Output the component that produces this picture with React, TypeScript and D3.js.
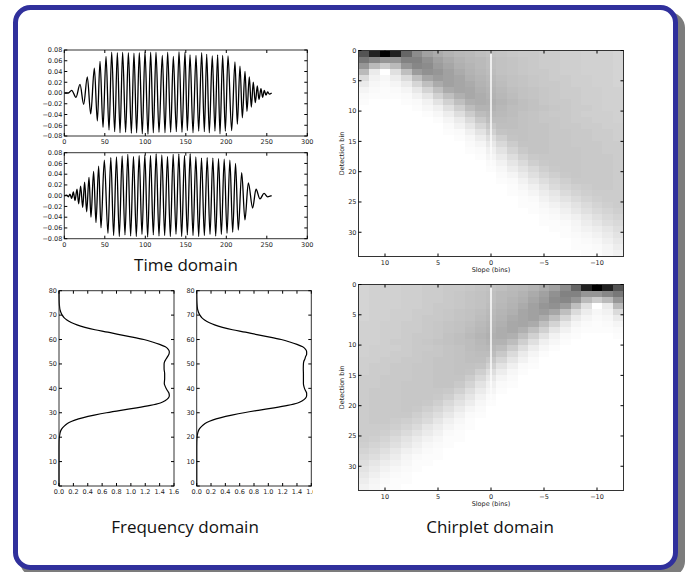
import React from 'react';
import * as d3 from 'd3';

// time domain: [sample, amplitude] at the turning points of each trace
const chirpUpWave: [number, number][] = [
  [0, 0], [5, 0], [9.1, 0.005], [14.4, -0.008], [19.4, 0.016], [23.9, -0.021], [28.4, 0.03], [32.6, -0.039],
  [37.1, 0.046], [40.8, -0.052], [44.1, 0.059], [47.8, -0.064], [51.5, 0.068], [55.2, -0.069], [58.5, 0.076],
  [62.2, -0.072], [65.5, 0.075], [68.8, -0.074], [72.0, 0.076], [75.7, -0.073], [79.1, 0.075], [82.8, -0.075],
  [86.0, 0.074], [89.3, -0.074], [92.6, 0.075], [96.3, -0.076], [99.6, 0.077], [103.3, -0.077], [106.6, 0.076],
  [109.9, -0.074], [113.2, 0.076], [116.9, -0.073], [121.0, 0.07], [124.3, -0.074], [127.6, 0.076], [131.3, -0.073],
  [134.6, 0.068], [138.3, -0.072], [141.6, 0.077], [145.3, -0.073], [149.0, 0.076], [151.9, -0.07], [155.2, 0.071],
  [158.9, -0.074], [162.6, 0.07], [165.9, -0.071], [169.6, 0.075], [172.9, -0.072], [175.8, 0.072], [179.0, -0.074],
  [182.7, 0.069], [186.0, -0.071], [189.3, 0.071], [192.2, -0.076], [195.5, 0.07], [198.8, -0.071], [202.1, 0.069],
  [206.6, -0.07], [210.7, 0.058], [213.6, -0.058], [216.9, 0.05], [219.8, -0.046], [223.1, 0.04], [225.5, -0.034],
  [228.4, 0.03], [230.9, -0.026], [233.3, 0.02], [235.8, -0.018], [238.3, 0.013], [240.3, -0.012], [242.8, 0.008],
  [244.8, -0.008], [246.9, 0.005], [249.0, -0.004], [251.0, 0.002], [253.1, -0.002], [256, 0],
];

const chirpDownWave: [number, number][] = [
  [0, 0], [2.9, 0.001], [5.0, -0.002], [7.0, 0.003], [9.1, -0.005], [11.2, 0.007], [13.2, -0.009], [15.7, 0.012],
  [17.7, -0.015], [20.2, 0.018], [22.7, -0.022], [25.1, 0.025], [27.6, -0.03], [30.5, 0.034], [32.9, -0.04],
  [36.2, 0.045], [39.1, -0.05], [42.4, 0.055], [45.3, -0.06], [49.4, 0.066], [53.9, -0.07],
  [57.4, 0.071], [60.9, -0.074], [64.4, 0.072], [67.9, -0.076], [71.4, 0.074], [74.9, -0.073], [78.4, 0.077],
  [81.9, -0.075], [85.4, 0.073], [88.9, -0.076], [92.4, 0.075], [95.9, -0.072], [99.4, 0.076], [102.9, -0.077],
  [106.4, 0.075], [109.9, -0.073], [113.4, 0.078], [116.9, -0.075], [120.4, 0.076], [123.9, -0.074], [127.4, 0.073],
  [130.9, -0.076], [134.4, 0.077], [137.9, -0.072], [141.4, 0.078], [144.9, -0.076], [148.4, 0.075], [151.9, -0.073],
  [155.4, 0.078], [158.9, -0.074], [162.4, 0.072], [165.9, -0.076], [169.4, 0.07], [172.9, -0.074], [176.4, 0.071],
  [179.9, -0.072], [183.4, 0.07], [186.9, -0.075], [190.4, 0.069], [193.9, -0.072], [197.4, 0.068], [200.9, -0.07],
  [204.4, 0.066], [207.9, -0.068], [211.4, 0.06], [214.8, -0.064], [219.0, 0.043], [223.0, -0.045], [227.2, 0.024],
  [232.5, -0.023], [236.7, 0.012], [241.6, -0.006], [246.6, 0.0045], [251.0, -0.002], [256, 0],
];

const timeTicks = [0, 50, 100, 150, 200, 250, 300];
const ampTicks = [-0.08, -0.06, -0.04, -0.02, 0, 0.02, 0.04, 0.06, 0.08];

// frequency domain: [bin, magnitude]
const spectrumA: [number, number][] = [
  [0, 0], [15, 0], [18, 0.001], [20, 0.005], [21, 0.01], [22, 0.017], [23, 0.03], [24, 0.055], [25, 0.09],
  [26, 0.14], [27, 0.22], [28, 0.34], [29, 0.49], [30, 0.66], [31, 0.86], [32, 1.08], [33, 1.27], [34, 1.41],
  [35, 1.48], [36, 1.52], [37, 1.535], [38, 1.53], [39, 1.51], [40, 1.49], [41, 1.475], [42, 1.465], [44, 1.47],
  [46, 1.47], [48, 1.462], [50, 1.462], [51, 1.47], [52, 1.49], [53, 1.51], [54, 1.53], [55, 1.535], [56, 1.52],
  [57, 1.48], [58, 1.4], [59, 1.3], [60, 1.18], [61, 1.02], [62, 0.84], [63, 0.68], [64, 0.5], [65, 0.36],
  [66, 0.25], [67, 0.17], [68, 0.11], [69, 0.07], [70, 0.045], [71, 0.028], [72, 0.016], [74, 0.006], [76, 0.002], [80, 0],
];
const spectrumB: [number, number][] = [
  [0, 0], [15, 0], [18, 0.001], [20, 0.005], [21, 0.01], [22, 0.017], [23, 0.03], [24, 0.055], [25, 0.09],
  [26, 0.14], [27, 0.22], [28, 0.34], [29, 0.49], [30, 0.66], [31, 0.86], [32, 1.08], [33, 1.27], [34, 1.41],
  [35, 1.48], [36, 1.52], [37, 1.535], [38, 1.535], [39, 1.52], [40, 1.505], [41, 1.495], [42, 1.49], [44, 1.49],
  [46, 1.49], [48, 1.488], [50, 1.49], [51, 1.495], [52, 1.51], [53, 1.52], [54, 1.535], [55, 1.535], [56, 1.52],
  [57, 1.48], [58, 1.4], [59, 1.3], [60, 1.18], [61, 1.02], [62, 0.84], [63, 0.68], [64, 0.5], [65, 0.36],
  [66, 0.25], [67, 0.17], [68, 0.11], [69, 0.07], [70, 0.045], [71, 0.028], [72, 0.016], [74, 0.006], [76, 0.002], [80, 0],
];
const magTicks = [0, 0.2, 0.4, 0.6, 0.8, 1.0, 1.2, 1.4, 1.6];
const binTicks = [0, 10, 20, 30, 40, 50, 60, 70, 80];

// chirplet domain: darkness (0 white .. 100 black), rows = detection bin 0..33, columns = slopes
const slopes = [12, 11, 10, 9, 8, 7, 6, 5, 4, 3, 2, 1, 0, -1, -2, -3, -4, -5, -6, -7, -8, -9, -10, -11, -12];
const slopeTicks = [10, 5, 0, -5, -10];
const detectionTicks = [0, 5, 10, 15, 20, 25, 30];
const chirpletUp: number[][] = [
  [67, 87, 100, 87, 60, 45, 37, 33, 30, 28, 27, 25, 24, 23, 22, 21, 21, 20, 20, 19, 19, 18, 18, 18, 17],
  [53, 47, 41, 41, 49, 49, 43, 37, 33, 30, 28, 27, 25, 24, 23, 22, 21, 20, 20, 19, 19, 18, 18, 18, 17],
  [41, 27, 20, 27, 41, 47, 45, 39, 35, 31, 29, 27, 25, 24, 23, 22, 21, 20, 20, 19, 19, 18, 18, 18, 17],
  [27, 8, 0, 12, 25, 39, 43, 41, 37, 33, 30, 28, 26, 24, 23, 22, 21, 21, 20, 19, 19, 18, 18, 18, 17],
  [14, 5, 3, 7, 14, 25, 35, 39, 37, 35, 31, 29, 27, 25, 24, 23, 22, 21, 20, 20, 19, 19, 18, 18, 17],
  [8, 3, 2, 4, 8, 16, 25, 33, 37, 35, 33, 30, 28, 26, 24, 23, 22, 21, 21, 20, 19, 19, 18, 18, 17],
  [4, 2, 1, 2, 4, 9, 17, 25, 33, 35, 34, 31, 29, 27, 25, 24, 23, 22, 21, 20, 20, 19, 19, 18, 18],
  [2, 1, 1, 1, 2, 5, 10, 18, 25, 31, 34, 32, 30, 28, 26, 24, 23, 22, 21, 20, 20, 19, 19, 18, 18],
  [1, 0, 0, 0, 1, 2, 5, 11, 18, 25, 31, 32, 31, 29, 27, 25, 24, 22, 21, 21, 20, 19, 19, 18, 18],
  [0, 0, 0, 0, 0, 1, 3, 6, 12, 19, 26, 30, 30, 28, 26, 25, 24, 23, 22, 21, 20, 20, 19, 18, 18],
  [0, 0, 0, 0, 0, 0, 1, 3, 7, 13, 20, 26, 28, 27, 26, 24, 23, 22, 21, 21, 20, 19, 19, 19, 18],
  [0, 0, 0, 0, 0, 0, 0, 1, 4, 8, 14, 21, 26, 26, 25, 24, 23, 22, 22, 21, 20, 20, 19, 19, 18],
  [0, 0, 0, 0, 0, 0, 0, 0, 2, 5, 10, 16, 22, 25, 25, 24, 23, 23, 22, 21, 21, 20, 20, 19, 19],
  [0, 0, 0, 0, 0, 0, 0, 0, 1, 2, 6, 11, 18, 23, 24, 24, 23, 23, 22, 22, 21, 21, 20, 20, 19],
  [0, 0, 0, 0, 0, 0, 0, 0, 0, 1, 3, 7, 13, 19, 23, 24, 23, 23, 22, 22, 21, 21, 20, 20, 19],
  [0, 0, 0, 0, 0, 0, 0, 0, 0, 0, 2, 4, 9, 15, 20, 23, 23, 23, 22, 22, 21, 21, 21, 20, 20],
  [0, 0, 0, 0, 0, 0, 0, 0, 0, 0, 1, 2, 6, 11, 17, 21, 23, 23, 22, 22, 22, 21, 21, 20, 20],
  [0, 0, 0, 0, 0, 0, 0, 0, 0, 0, 0, 1, 4, 8, 13, 18, 21, 22, 22, 22, 22, 21, 21, 21, 20],
  [0, 0, 0, 0, 0, 0, 0, 0, 0, 0, 0, 0, 2, 5, 10, 14, 19, 21, 22, 22, 22, 21, 21, 21, 20],
  [0, 0, 0, 0, 0, 0, 0, 0, 0, 0, 0, 0, 1, 3, 7, 11, 15, 19, 21, 22, 22, 21, 21, 21, 20],
  [0, 0, 0, 0, 0, 0, 0, 0, 0, 0, 0, 0, 0, 2, 4, 8, 12, 16, 19, 21, 22, 21, 21, 21, 20],
  [0, 0, 0, 0, 0, 0, 0, 0, 0, 0, 0, 0, 0, 1, 2, 5, 9, 13, 16, 19, 21, 21, 21, 21, 20],
  [0, 0, 0, 0, 0, 0, 0, 0, 0, 0, 0, 0, 0, 0, 1, 3, 6, 10, 14, 17, 19, 20, 21, 21, 20],
  [0, 0, 0, 0, 0, 0, 0, 0, 0, 0, 0, 0, 0, 0, 1, 2, 4, 7, 10, 14, 17, 19, 20, 20, 20],
  [0, 0, 0, 0, 0, 0, 0, 0, 0, 0, 0, 0, 0, 0, 0, 1, 2, 5, 8, 11, 14, 17, 19, 20, 20],
  [0, 0, 0, 0, 0, 0, 0, 0, 0, 0, 0, 0, 0, 0, 0, 1, 1, 3, 5, 8, 11, 14, 17, 19, 20],
  [0, 0, 0, 0, 0, 0, 0, 0, 0, 0, 0, 0, 0, 0, 0, 0, 1, 2, 3, 6, 9, 12, 15, 17, 19],
  [0, 0, 0, 0, 0, 0, 0, 0, 0, 0, 0, 0, 0, 0, 0, 0, 0, 1, 2, 4, 6, 9, 12, 15, 17],
  [0, 0, 0, 0, 0, 0, 0, 0, 0, 0, 0, 0, 0, 0, 0, 0, 0, 1, 1, 2, 4, 7, 10, 13, 15],
  [0, 0, 0, 0, 0, 0, 0, 0, 0, 0, 0, 0, 0, 0, 0, 0, 0, 0, 1, 1, 3, 5, 7, 10, 13],
  [0, 0, 0, 0, 0, 0, 0, 0, 0, 0, 0, 0, 0, 0, 0, 0, 0, 0, 0, 1, 2, 3, 5, 8, 11],
  [0, 0, 0, 0, 0, 0, 0, 0, 0, 0, 0, 0, 0, 0, 0, 0, 0, 0, 0, 0, 1, 2, 3, 6, 9],
  [0, 0, 0, 0, 0, 0, 0, 0, 0, 0, 0, 0, 0, 0, 0, 0, 0, 0, 0, 0, 1, 1, 2, 4, 7],
  [0, 0, 0, 0, 0, 0, 0, 0, 0, 0, 0, 0, 0, 0, 0, 0, 0, 0, 0, 0, 0, 1, 1, 3, 5],
];
// the down-chirp map is the same picture mirrored left/right
const chirpletDown = chirpletUp.map(row => [...row].reverse());

const TICK_FONT = 'DejaVu Sans, sans-serif';
const TITLE_FONT = '"Open Sans", "Noto Sans", sans-serif';
const gray = d3.scaleLinear<string>().domain([0, 100]).range(['#ffffff', '#000000']);

type Lin = d3.ScaleLinear<number, number>;

// matplotlib-ish box with inward ticks on all four sides
function Axes({x, y, xTicks, yTicks, xFmt, yFmt, xLabel, yLabel, raiseZero}: {
  x: Lin; y: Lin; xTicks: number[]; yTicks: number[];
  xFmt: (v: number) => string; yFmt: (v: number) => string;
  xLabel?: string; yLabel?: string; raiseZero?: boolean;
}) {
  const left = Math.min(...x.range()), right = Math.max(...x.range());
  const top = Math.min(...y.range()), bottom = Math.max(...y.range());
  const L = 3;
  return (
    <g fontFamily={TICK_FONT} fontSize={6.5} fill="#222">
      <rect x={left} y={top} width={right - left} height={bottom - top} fill="none" stroke="#333" strokeWidth={1} />
      {xTicks.map(v => (
        <g key={'x' + v}>
          <line x1={x(v)} x2={x(v)} y1={bottom} y2={bottom - L} stroke="#000" />
          <line x1={x(v)} x2={x(v)} y1={top} y2={top + L} stroke="#000" />
          <text x={x(v)} y={bottom + 8} textAnchor="middle">{xFmt(v)}</text>
        </g>
      ))}
      {yTicks.map(v => (
        <g key={'y' + v}>
          <line x1={left} x2={left + L} y1={y(v)} y2={y(v)} stroke="#000" />
          <line x1={right} x2={right - L} y1={y(v)} y2={y(v)} stroke="#000" />
          <text x={left - 2} y={y(v) - (raiseZero && v === 0 ? 3 : 0)} dy="0.35em" textAnchor="end">{yFmt(v)}</text>
        </g>
      ))}
      {xLabel && <text x={(left + right) / 2} y={bottom + 15.5} textAnchor="middle">{xLabel}</text>}
      {yLabel && (
        <text transform={`translate(${left - 15},${(top + bottom) / 2}) rotate(-90)`} textAnchor="middle">{yLabel}</text>
      )}
    </g>
  );
}

function TimePlot({data, top}: {data: [number, number][]; top: number}) {
  const x = d3.scaleLinear().domain([0, 300]).range([64.3, 307.3]);
  const y = d3.scaleLinear().domain([-0.08, 0.08]).range([top + 86, top]);
  const line = d3.line<[number, number]>().x(d => x(d[0])).y(d => y(d[1])).curve(d3.curveMonotoneX);
  return (
    <g>
      <path d={line(data) || ''} fill="none" stroke="#000" strokeWidth={1.3} />
      <Axes x={x} y={y} xTicks={timeTicks} yTicks={ampTicks} xFmt={d3.format('d')} yFmt={d3.format('.2f')} />
    </g>
  );
}

function SpectrumPlot({data, left, right}: {data: [number, number][]; left: number; right: number}) {
  const x = d3.scaleLinear().domain([0, 1.6]).range([left, right]);
  const y = d3.scaleLinear().domain([0, 80]).range([486, 290.7]);
  const line = d3.line<[number, number]>().x(d => x(d[1])).y(d => y(d[0])).curve(d3.curveMonotoneY);
  return (
    <g>
      <path d={line(data) || ''} fill="none" stroke="#000" strokeWidth={1.2} />
      <Axes x={x} y={y} xTicks={magTicks} yTicks={binTicks} xFmt={d3.format('.1f')} yFmt={d3.format('d')} raiseZero />
    </g>
  );
}

function ChirpletMap({grid, top, id}: {grid: number[][]; top: number; id: string}) {
  const x = d3.scaleLinear().domain([12.5, -12.5]).range([358.5, 623.5]);
  const y = d3.scaleLinear().domain([0, 34]).range([top, top + 206]);
  return (
    <g>
      <defs>
        <linearGradient id={id} x1="0" x2="0" y1={y(0)} y2={y(21)} gradientUnits="userSpaceOnUse">
          <stop offset="0" stopColor="#fff" stopOpacity={1} />
          <stop offset="0.78" stopColor="#fff" stopOpacity={0.95} />
          <stop offset="1" stopColor="#fff" stopOpacity={0} />
        </linearGradient>
      </defs>
      <g shapeRendering="crispEdges">
        {grid.map((row, r) => row.map((v, c) => (
          <rect key={r + '-' + c} x={x(slopes[c] + 0.5)} y={y(r)}
            width={x(slopes[c] - 0.5) - x(slopes[c] + 0.5) + 0.4} height={y(r + 1) - y(r) + 0.4} fill={gray(v)} />
        )))}
      </g>
      <line x1={x(0)} x2={x(0)} y1={y(0)} y2={y(21)} stroke={`url(#${id})`} strokeWidth={1.5} />
      <Axes x={x} y={y} xTicks={slopeTicks} yTicks={detectionTicks} xFmt={d3.format('d')} yFmt={d3.format('d')}
        xLabel="Slope (bins)" yLabel="Detection bin" />
    </g>
  );
}

export default function App() {
  return (
    <svg width={687} height={572} style={{position: 'absolute', left: 0, top: 0}}>
      <rect x={0} y={0} width={687} height={572} fill="#fff" />
      <rect x={20} y={12} width={665} height={565} rx={16} fill="#7c7c7c" />
      <rect x={15.5} y={7.5} width={660} height={560} rx={15} fill="#fff" stroke="#30309c" strokeWidth={5} />

      <TimePlot data={chirpUpWave} top={50} />
      <TimePlot data={chirpDownWave} top={152.7} />
      <text x={186} y={271} textAnchor="middle" fontFamily={TITLE_FONT} fontSize={17} fill="#111">Time domain</text>

      <defs>
        <clipPath id="freqClip"><rect x={0} y={270} width={313} height={240} /></clipPath>
      </defs>
      <g clipPath="url(#freqClip)">
        <SpectrumPlot data={spectrumA} left={59} right={174} />
        <SpectrumPlot data={spectrumB} left={196.7} right={311.3} />
      </g>
      <text x={185} y={533} textAnchor="middle" fontFamily={TITLE_FONT} fontSize={17} fill="#111">Frequency domain</text>

      <ChirpletMap grid={chirpletUp} top={50.5} id="zeroUp" />
      <ChirpletMap grid={chirpletDown} top={284.5} id="zeroDown" />
      <text x={490} y={533} textAnchor="middle" fontFamily={TITLE_FONT} fontSize={17} fill="#111">Chirplet domain</text>
    </svg>
  );
}
